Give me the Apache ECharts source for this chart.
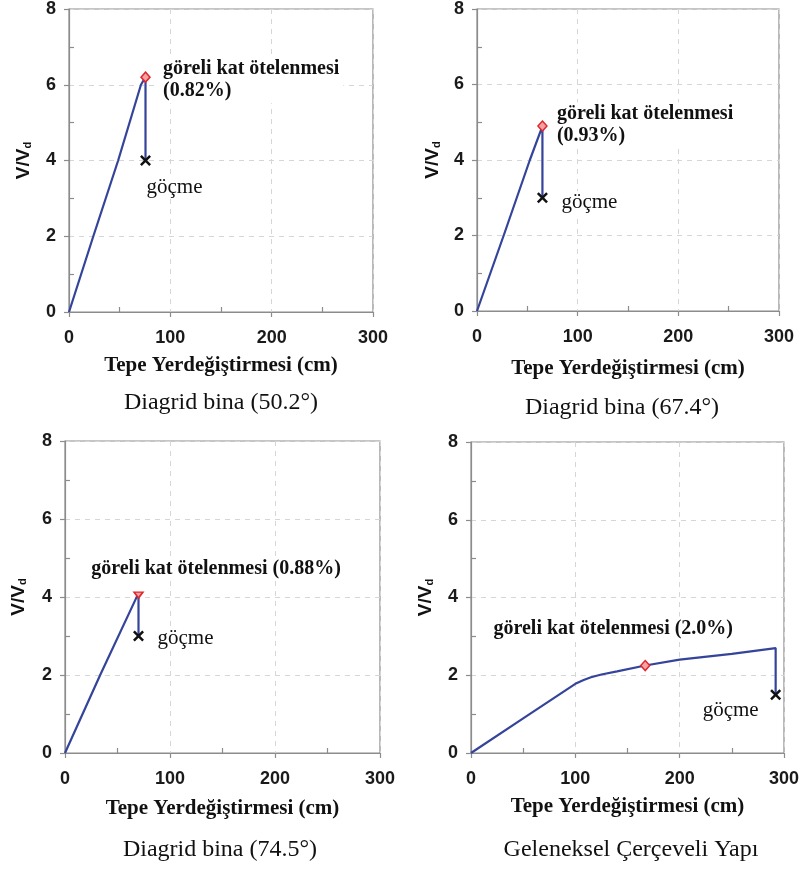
<!DOCTYPE html>
<html>
<head>
<meta charset="utf-8">
<script src="https://cdn.jsdelivr.net/npm/echarts@6/dist/echarts.min.js"></script>
<style>
  html, body { margin: 0; padding: 0; background: #fff; }
  #chart { width: 805px; height: 870px; }
</style>
</head>
<body>
<div id="chart"></div>
<script>
// Pushover capacity curves: roof displacement (cm) vs normalized base shear V/Vd

const xTicks = [0, 100, 200, 300];
const yTicks = [0, 2, 4, 6, 8];

// Diagrid 50.2°
const disp502 = [0, 24, 48.5, 71, 75.5, 75.5];
const shear502 = [0, 2.0, 4.0, 6.0, 6.2, 4.0];
// Diagrid 67.4°
const disp674 = [0, 26.5, 52.5, 65, 65];
const shear674 = [0, 2.0, 4.0, 4.9, 3.0];
// Diagrid 74.5°
const disp745 = [0, 33.5, 70, 70];
const shear745 = [0, 2.0, 4.1, 3.0];
// Conventional moment frame
const dispFrame = [0, 50, 100, 108, 115, 125, 140, 167, 200, 250, 292, 292];
const shearFrame = [0, 0.89, 1.78, 1.88, 1.95, 2.02, 2.1, 2.25, 2.4, 2.55, 2.7, 1.5];

// Points where the interstorey drift limit is reached, and collapse points
const driftDisp = [75.5, 65, 70, 167];
const driftShear = [6.2, 4.9, 4.1, 2.25];
const collapseDisp = [75.5, 65, 70, 292];
const collapseShear = [4.0, 3.0, 3.0, 1.5];

const driftText = [
  'göreli kat ötelenmesi\n(0.82%)',
  'göreli kat ötelenmesi\n(0.93%)',
  'göreli kat ötelenmesi (0.88%)',
  'göreli kat ötelenmesi (2.0%)'
];
const collapseText = ['göçme', 'göçme', 'göçme', 'göçme'];
const captions = ['Diagrid bina (50.2°)', 'Diagrid bina (67.4°)', 'Diagrid bina (74.5°)', 'Geleneksel Çerçeveli Yapı'];
const xName = 'Tepe Yerdeğiştirmesi (cm)';
const yName = 'V/V{d|d}';

const curvesX = [disp502, disp674, disp745, dispFrame];
const curvesY = [shear502, shear674, shear745, shearFrame];

// ---- layout ----
const SERIF = '"Liberation Serif", "Times New Roman", serif';
const SANS = '"Liberation Sans", Arial, sans-serif';
const AXIS_GRAY = '#8c8c8c';
const LINE_BLUE = '#34449a';

const grids = [
  { left: 69, top: 7, width: 304, height: 305 },
  { left: 477, top: 7, width: 302, height: 304 },
  { left: 65, top: 441, width: 315, height: 312 },
  { left: 471, top: 442, width: 313, height: 311 }
];
const xNameGap = [43, 47, 45, 43];
const yNameGap = [36, 35, 37, 36];

const driftLabelLayout = [
  { align: 'left', offset: [13.5, 3] },
  { align: 'left', offset: [10.5, -0.7] },
  { align: 'center', offset: [77.5, -26.7] },
  { align: 'center', offset: [-32, -37] }
];
const collapseLabelLayout = [
  { align: 'left', offset: [-3, 27] },
  { align: 'left', offset: [15, 5] },
  { align: 'left', offset: [15, 2] },
  { align: 'center', offset: [-45, 16] }
];
const captionPos = [[221, 403], [622, 408], [220, 850], [631, 850]];

// X-shaped collapse marker
const crossPath = 'path://M1.6,0 L5,3.4 L8.4,0 L10,1.6 L6.6,5 L10,8.4 L8.4,10 L5,6.6 L1.6,10 L0,8.4 L3.4,5 L0,1.6 Z';

const xAxes = [], yAxes = [], series = [];

for (let i = 0; i < 4; i++) {
  xAxes.push({
    gridIndex: i, type: 'value',
    min: xTicks[0], max: xTicks[xTicks.length - 1], interval: xTicks[1] - xTicks[0],
    name: xName, nameLocation: 'middle', nameGap: xNameGap[i],
    nameTextStyle: { fontFamily: SERIF, fontWeight: 'bold', fontSize: 21, color: '#111' },
    axisLine: { show: true, lineStyle: { color: AXIS_GRAY, width: 1.2 } },
    axisTick: { show: true, length: 5, lineStyle: { color: AXIS_GRAY, width: 1.2 } },
    minorTick: { show: true, splitNumber: 2, length: -5, lineStyle: { color: AXIS_GRAY, width: 1.2 } },
    axisLabel: { margin: 17, fontFamily: SANS, fontWeight: 'bold', fontSize: 18, color: '#1a1a1a', showMinLabel: true, showMaxLabel: true },
    splitLine: { show: true, lineStyle: { type: [5, 5], color: '#d6d6d6', width: 1 } }
  });
  yAxes.push({
    gridIndex: i, type: 'value',
    min: yTicks[0], max: yTicks[yTicks.length - 1], interval: yTicks[1] - yTicks[0],
    name: yName, nameLocation: 'middle', nameGap: yNameGap[i], nameRotate: 90,
    nameTextStyle: {
      fontFamily: SANS, fontWeight: 'bold', fontSize: 19, color: '#111',
      rich: { d: { fontFamily: SANS, fontWeight: 'bold', fontSize: 11, color: '#111', verticalAlign: 'bottom', padding: [6, 0, 0, 0] } }
    },
    axisLine: { show: true, lineStyle: { color: AXIS_GRAY, width: 1.2 } },
    axisTick: { show: true, length: 5, lineStyle: { color: AXIS_GRAY, width: 1.2 } },
    minorTick: { show: true, splitNumber: 2, length: -5, lineStyle: { color: AXIS_GRAY, width: 1.2 } },
    axisLabel: { margin: 13, fontFamily: SANS, fontWeight: 'bold', fontSize: 18, color: '#1a1a1a', showMinLabel: true, showMaxLabel: true },
    splitLine: { show: true, lineStyle: { type: [5, 5], color: '#d6d6d6', width: 1 } }
  });

  // capacity curve (ends with the vertical drop to collapse)
  series.push({
    type: 'line', xAxisIndex: i, yAxisIndex: i, z: 3,
    data: curvesX[i].map((x, k) => [x, curvesY[i][k]]),
    symbol: 'none', silent: true, animation: false,
    lineStyle: { color: LINE_BLUE, width: 2.2 }
  });

  // drift-limit marker
  const dl = driftLabelLayout[i];
  series.push({
    type: 'scatter', xAxisIndex: i, yAxisIndex: i, z: 4, animation: false,
    data: [[driftDisp[i], driftShear[i]]],
    symbol: i === 2 ? 'triangle' : 'diamond',
    symbolRotate: i === 2 ? 180 : 0,
    symbolSize: i === 2 ? [9, 6] : [9, 10],
    symbolOffset: i === 2 ? [0, 2] : [0, 0],
    itemStyle: { color: '#f4a3a3', borderColor: '#e0262b', borderWidth: 1.5, opacity: 1 },
    label: {
      show: true, formatter: driftText[i],
      position: ['50%', '50%'], offset: dl.offset, align: dl.align, verticalAlign: 'middle',
      fontFamily: SERIF, fontWeight: 'bold', fontSize: 20, lineHeight: 22, color: '#111',
      backgroundColor: '#fff', padding: [1, 4]
    }
  });

  // collapse marker
  const cl = collapseLabelLayout[i];
  series.push({
    type: 'scatter', xAxisIndex: i, yAxisIndex: i, z: 4, animation: false,
    data: [[collapseDisp[i], collapseShear[i]]],
    symbol: crossPath, symbolSize: 11,
    itemStyle: { color: '#111', opacity: 1 },
    label: {
      show: true, formatter: collapseText[i],
      position: ['50%', '50%'], offset: cl.offset, align: cl.align, verticalAlign: 'middle',
      fontFamily: SERIF, fontSize: 21, color: '#111',
      backgroundColor: '#fff', padding: [1, 4]
    }
  });
}

const chart = echarts.init(document.getElementById('chart'), null, { renderer: 'canvas' });
chart.setOption({
  backgroundColor: '#fff',
  animation: false,
  grid: grids.map(g => Object.assign({ show: true, borderColor: AXIS_GRAY, borderWidth: 1.2, backgroundColor: 'transparent', containLabel: false }, g)),
  xAxis: xAxes,
  yAxis: yAxes,
  series: series,
  graphic: captions.map((t, i) => ({
    type: 'text', x: captionPos[i][0], y: captionPos[i][1], silent: true,
    style: { text: t, align: 'center', verticalAlign: 'middle', font: '24px ' + SERIF, fill: '#111' }
  }))
});
</script>
</body>
</html>
